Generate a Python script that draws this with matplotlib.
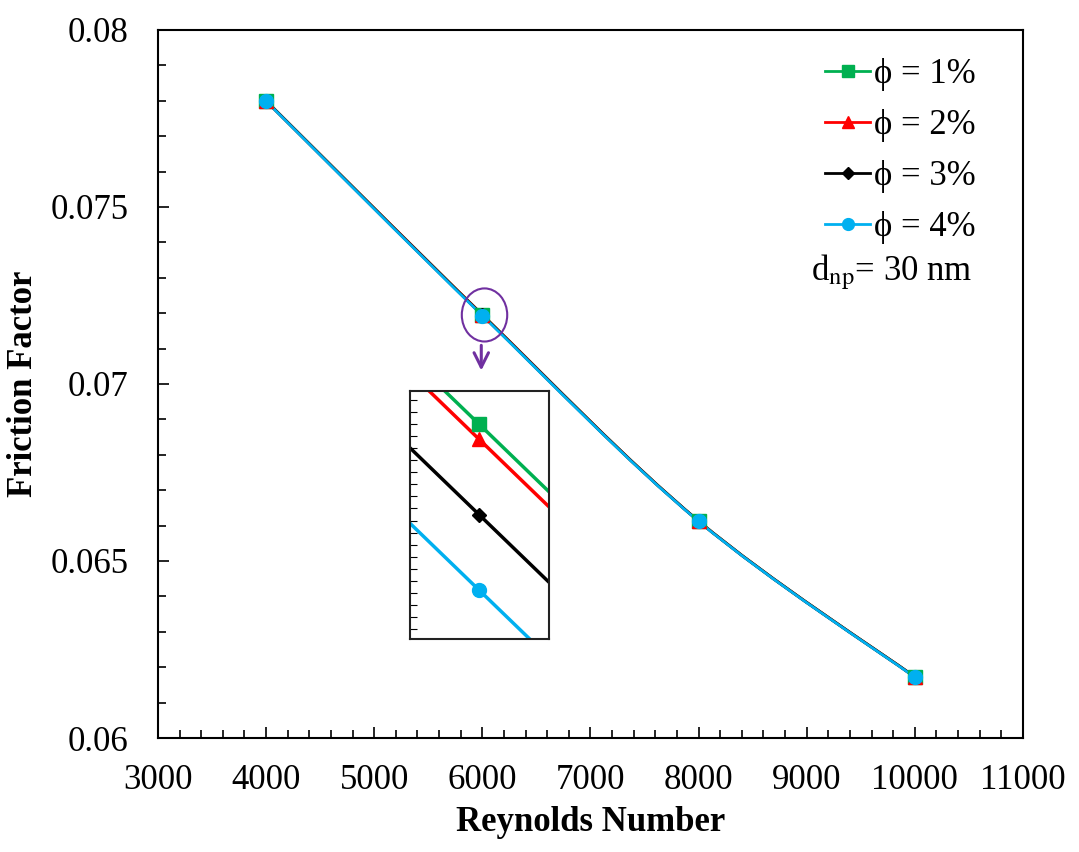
import numpy as np
import matplotlib
matplotlib.use("Agg")
import matplotlib.pyplot as plt
from matplotlib.path import Path
from matplotlib.patches import PathPatch, Ellipse
from matplotlib.ticker import MultipleLocator, AutoMinorLocator

plt.rcParams['font.family'] = ['Liberation Serif', 'DejaVu Serif']
plt.rcParams['mathtext.fontset'] = 'stix'

# data
reynolds = [4000, 6000, 8000, 10000]
f_phi1 = [0.0780025, 0.0719600, 0.0661325, 0.0617275]
f_phi2 = [0.0780000, 0.0719575, 0.0661300, 0.0617250]
f_phi3 = [0.0779950, 0.0719450, 0.0661250, 0.0617200]
f_phi4 = [0.0779900, 0.0719325, 0.0661200, 0.0617150]
labels = ['ϕ = 1%', 'ϕ = 2%', 'ϕ = 3%', 'ϕ = 4%']
colors = ['#00B050', '#FF0000', '#000000', '#00B0F0']
markers = ['s', '^', 'D', 'o']
msizes = [10, 10, 7, 10]
series = [f_phi1, f_phi2, f_phi3, f_phi4]


def smooth_path(x, y):
    # excel-like smoothed line: bezier segments through the points
    x = np.asarray(x, float)
    y = np.asarray(y, float)
    pts = np.column_stack([x, y])
    verts = [pts[0]]
    codes = [Path.MOVETO]
    n = len(pts)
    for i in range(n - 1):
        p0 = pts[i - 1] if i > 0 else pts[i]
        p1 = pts[i]
        p2 = pts[i + 1]
        p3 = pts[i + 2] if i + 2 < n else pts[i + 1]
        c1 = p1 + (p2 - p0) / 6.0
        c2 = p2 - (p3 - p1) / 6.0
        verts += [c1, c2, p2]
        codes += [Path.CURVE4] * 3
    return Path(verts, codes)


fig = plt.figure(figsize=(10.79, 8.52), dpi=100)
ax = fig.add_axes([0.1464, 0.1338, 0.8017, 0.831])

for ys, c, m, ms, lab in zip(series, colors, markers, msizes, labels):
    ax.add_patch(PathPatch(smooth_path(reynolds, ys), fill=False, edgecolor=c, lw=2.0))
    ax.plot(reynolds, ys, linestyle='none', marker=m, color=c, markersize=ms)
    ax.plot([], [], color=c, marker=m, markersize=ms * 0.85, lw=2.0, label=lab)

ax.set_xlim(3000, 11000)
ax.set_ylim(0.06, 0.08)
ax.xaxis.set_major_locator(MultipleLocator(1000))
ax.xaxis.set_minor_locator(AutoMinorLocator(5))
ax.yaxis.set_major_locator(MultipleLocator(0.005))
ax.yaxis.set_minor_locator(AutoMinorLocator(5))
ax.set_yticks([0.06, 0.065, 0.07, 0.075, 0.08])
ax.set_yticklabels(['0.06', '0.065', '0.07', '0.075', '0.08'])
ax.tick_params(which='both', direction='in', labelsize=25, top=False, right=False)
ax.tick_params(axis='x', which='major', pad=19)
ax.tick_params(axis='y', which='major', pad=21)
ax.tick_params(which='major', length=8, width=1.2)
ax.tick_params(which='minor', length=6, width=1.2)
for sp in ax.spines.values():
    sp.set_linewidth(1.5)

ax.set_xlabel('Reynolds Number', fontsize=25, fontweight='bold', labelpad=6)
ax.set_ylabel('Friction Factor', fontsize=25, fontweight='bold', labelpad=8)

leg = ax.legend(loc='upper right', bbox_to_anchor=(0.981, 1.005), frameon=False,
                fontsize=25, handlelength=1.3, handletextpad=0.1, labelspacing=0.52)
ax.text(0.755, 0.658, r'd$_{\mathrm{np}}$= 30 nm', transform=ax.transAxes,
        fontsize=25, ha='left', va='center')

# highlight circle and arrow
ax.add_patch(Ellipse((6020, 0.07195), 420, 0.0015, fill=False, edgecolor='#7030A0', lw=1.5))
ax.annotate('', xy=(5990, 0.07030), xytext=(5990, 0.07117),
            arrowprops=dict(arrowstyle='->', color='#7030A0', lw=2.2, mutation_scale=26))

# zoom inset
ins = fig.add_axes([410 / 1079, 1 - 639 / 852, 139 / 1079, 248 / 852])
for ys, c, m, ms in zip(series, colors, markers, msizes):
    ins.add_patch(PathPatch(smooth_path(reynolds, ys), fill=False, edgecolor=c, lw=2.5))
    ins.plot(reynolds, ys, linestyle='none', marker=m, color=c, markersize=ms * 1.0)
ins.set_xlim(5996.28, 6003.78)
ins.set_ylim(0.07192437, 0.07196547)
ins.set_xticks([])
ins.yaxis.set_major_locator(MultipleLocator(0.000002))
ins.tick_params(axis='y', direction='in', length=5, labelleft=False)
for sp in ins.spines.values():
    sp.set_linewidth(1.5)
    sp.set_color('#222222')

fig.savefig('out.png', dpi=100)
